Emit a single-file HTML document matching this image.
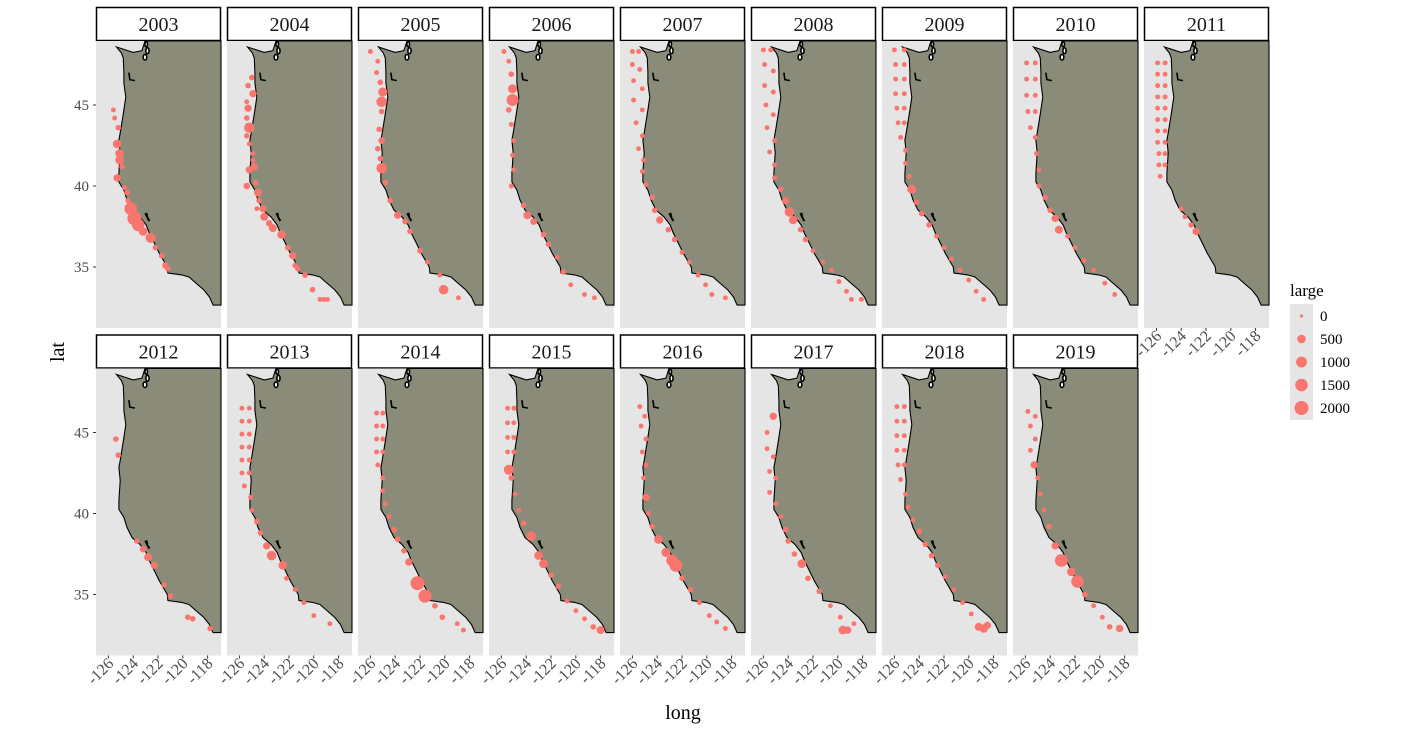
<!DOCTYPE html>
<html><head><meta charset="utf-8">
<style>
html,body{margin:0;padding:0;background:#fff;}
svg{display:block;font-family:"Liberation Serif",serif;}
</style></head>
<body>
<svg id="chart" width="1410" height="731" viewBox="0 0 1410 731" xmlns="http://www.w3.org/2000/svg"></svg>
<script>
const years=[2003,2004,2005,2006,2007,2008,2009,2010,2011,2012,2013,2014,2015,2016,2017,2018,2019];
const xTicks=[-126,-124,-122,-120,-118];
const yTicks=[45,40,35];
const legendValues=[0,500,1000,1500,2000];
// [lon, lat, large]
const pts2003=[[-125.6,44.7,50],[-125.5,44.2,50],[-125.2,43.6,100],[-125.3,42.6,500],[-125.1,42.0,500],[-125.1,41.6,500],[-124.9,41.2,100],[-125.3,40.5,300],[-124.7,39.9,50],[-124.5,39.6,100],[-124.4,39.1,100],[-124.2,38.6,1500],[-123.9,38.0,2000],[-123.6,37.6,1500],[-123.2,37.2,500],[-122.6,36.8,800],[-122.2,36.2,100],[-121.7,35.7,100],[-121.4,35.1,200],[-121.2,34.9,100]];
const pts2004=[[-125.0,46.7,100],[-125.3,46.2,100],[-124.9,45.7,300],[-125.4,45.2,50],[-125.3,44.8,300],[-125.4,44.2,100],[-125.2,43.6,900],[-125.4,43.1,100],[-125.2,42.6,50],[-124.9,42.0,50],[-124.9,41.6,50],[-124.8,41.2,300],[-125.2,41.0,300],[-124.7,40.2,100],[-125.4,40.0,200],[-124.5,39.6,400],[-124.4,39.1,100],[-124.6,38.6,50],[-124.1,38.6,300],[-124.0,38.1,400],[-123.6,37.7,200],[-123.3,37.4,400],[-122.6,37.0,500],[-122.1,36.2,100],[-121.7,35.7,300],[-121.5,35.1,100],[-121.3,34.9,100],[-120.7,34.5,100],[-120.1,33.6,100],[-119.5,33.0,50],[-119.2,33.0,50],[-118.9,33.0,50]];
const pts2005=[[-126.0,48.3,50],[-125.4,47.7,50],[-125.5,47.0,50],[-125.2,46.4,100],[-125.0,45.8,600],[-125.1,45.2,900],[-125.1,44.6,100],[-125.3,43.5,100],[-125.1,42.8,200],[-125.4,42.3,100],[-125.2,41.7,100],[-125.1,41.1,900],[-124.8,40.2,100],[-124.4,39.1,100],[-123.8,38.2,300],[-123.2,37.8,100],[-122.8,37.2,100],[-122.0,36.0,100],[-121.4,35.3,50],[-120.4,34.5,50],[-120.1,33.6,700],[-118.9,33.1,50]];
const pts2006=[[-125.8,48.3,50],[-125.4,47.7,50],[-125.2,46.9,100],[-125.1,46.0,600],[-125.1,45.3,1300],[-125.4,44.7,100],[-125.2,43.8,50],[-125.0,42.8,50],[-125.1,41.9,50],[-125.0,41.0,50],[-125.2,40.0,50],[-124.2,38.8,100],[-123.9,38.2,400],[-123.4,37.8,200],[-122.6,37.0,100],[-122.2,36.4,100],[-121.5,35.6,50],[-121.0,34.7,100],[-120.4,33.9,50],[-119.3,33.3,50],[-118.5,33.1,50]];
const pts2007=[[-126.0,48.3,50],[-125.5,48.3,50],[-126.0,47.5,50],[-125.4,47.2,50],[-125.9,46.5,50],[-125.2,46.0,50],[-125.9,45.3,50],[-125.2,44.7,50],[-125.7,43.9,50],[-125.2,43.1,50],[-125.5,42.3,50],[-125.1,41.6,50],[-125.2,40.9,50],[-124.9,40.1,50],[-124.4,39.3,100],[-124.2,38.5,100],[-123.8,37.9,300],[-123.1,37.3,100],[-122.6,36.7,100],[-122.0,35.9,50],[-121.4,35.3,50],[-120.7,34.5,50],[-120.1,33.9,50],[-119.6,33.3,50],[-118.5,33.1,50]];
const pts2008=[[-126.0,48.4,50],[-125.4,48.4,50],[-125.9,47.5,50],[-125.2,47.1,50],[-125.9,46.2,50],[-125.2,45.8,50],[-125.8,45.0,50],[-125.2,44.4,50],[-125.7,43.6,50],[-125.1,42.8,50],[-125.5,42.1,50],[-125.1,41.3,50],[-125.1,40.5,50],[-124.6,39.8,100],[-124.2,39.1,300],[-123.9,38.4,700],[-123.6,37.9,500],[-123.0,37.3,100],[-122.6,36.7,100],[-122.0,36.0,50],[-121.2,35.3,50],[-120.5,34.8,50],[-119.9,34.1,50],[-119.3,33.5,50],[-118.9,33.0,50],[-118.1,33.0,50]];
const pts2009=[[-126.0,48.4,50],[-125.2,48.4,50],[-125.9,47.5,50],[-125.2,47.5,50],[-125.9,46.6,50],[-125.2,46.6,50],[-125.9,45.7,50],[-125.2,45.7,50],[-125.8,44.8,50],[-125.2,44.8,50],[-125.7,43.9,50],[-125.2,43.9,50],[-125.5,43.0,50],[-125.1,42.2,50],[-125.1,41.4,50],[-124.8,40.6,50],[-124.6,39.8,600],[-124.2,39.0,100],[-123.8,38.3,100],[-123.2,37.6,100],[-122.6,36.9,50],[-122.0,36.2,50],[-121.4,35.5,50],[-120.7,34.8,50],[-120.0,34.2,50],[-119.4,33.5,50],[-118.8,33.0,50]];
const pts2010=[[-125.9,47.6,50],[-125.2,47.6,50],[-125.9,46.6,50],[-125.2,46.6,50],[-125.9,45.6,50],[-125.2,45.6,50],[-125.8,44.6,50],[-125.2,44.6,50],[-125.6,43.6,50],[-125.2,43.0,50],[-125.1,42.0,50],[-124.9,41.0,50],[-124.9,40.0,50],[-124.4,39.3,100],[-124.0,38.5,100],[-123.6,38.0,300],[-123.3,37.3,400],[-122.6,36.9,50],[-122.0,36.2,50],[-121.3,35.4,50],[-120.5,34.8,50],[-119.6,34.0,50],[-118.8,33.3,50]];
const pts2011=[[-125.9,47.6,50],[-125.3,47.6,50],[-125.9,46.9,50],[-125.3,46.9,50],[-125.9,46.2,50],[-125.3,46.2,50],[-125.9,45.5,50],[-125.3,45.5,50],[-125.9,44.8,50],[-125.3,44.8,50],[-125.9,44.1,50],[-125.3,44.1,50],[-125.9,43.4,50],[-125.3,43.4,50],[-125.9,42.7,50],[-125.3,42.7,50],[-125.8,42.0,50],[-125.3,42.0,50],[-125.8,41.3,50],[-125.3,41.3,50],[-125.7,40.6,50],[-124.0,38.6,50],[-123.7,38.1,50],[-123.2,37.6,100],[-122.8,37.2,300]];
const pts2012=[[-125.4,44.6,100],[-125.2,43.6,100],[-123.7,38.3,100],[-123.2,37.8,200],[-122.8,37.3,400],[-122.3,36.8,300],[-121.5,35.6,100],[-121.0,34.9,100],[-119.6,33.6,100],[-119.2,33.5,100],[-117.8,32.9,100]];
const pts2013=[[-125.8,46.5,50],[-125.2,46.5,50],[-125.8,45.7,50],[-125.2,45.7,50],[-125.8,44.9,50],[-125.2,44.9,50],[-125.8,44.1,50],[-125.2,44.1,50],[-125.8,43.3,50],[-125.2,43.3,50],[-125.8,42.5,50],[-125.2,42.5,50],[-125.6,41.7,50],[-125.1,41.0,50],[-125.0,40.2,50],[-124.6,39.5,100],[-124.3,38.8,100],[-123.8,38.0,300],[-123.4,37.4,700],[-122.5,36.8,500],[-122.2,36.0,50],[-121.5,35.3,50],[-120.8,34.5,50],[-120.0,33.7,50],[-118.7,33.2,50]];
const pts2014=[[-125.5,46.2,50],[-125.0,46.2,50],[-125.5,45.4,50],[-125.0,45.4,50],[-125.5,44.6,50],[-125.0,44.6,50],[-125.5,43.8,50],[-125.0,43.8,50],[-125.4,43.0,50],[-125.0,42.2,50],[-125.0,41.4,50],[-124.8,40.6,50],[-124.5,39.8,50],[-124.1,39.0,100],[-123.8,38.4,100],[-123.3,37.7,100],[-122.9,37.0,300],[-122.2,35.7,2000],[-121.6,34.9,1700],[-120.8,34.3,100],[-120.2,33.6,100],[-119.0,33.2,50],[-118.5,32.8,50]];
const pts2015=[[-125.5,46.5,50],[-125.0,46.5,50],[-125.5,45.6,50],[-125.0,45.6,50],[-125.5,44.7,50],[-125.0,44.7,50],[-125.5,43.8,50],[-125.0,43.8,50],[-125.4,42.7,800],[-125.2,42.2,100],[-124.9,41.2,50],[-124.6,40.2,50],[-124.2,39.4,100],[-123.6,38.6,700],[-123.0,37.4,500],[-122.6,36.9,600],[-122.0,36.2,100],[-121.4,35.5,100],[-120.7,34.6,50],[-120.0,34.0,50],[-119.3,33.5,50],[-118.6,33.0,100],[-118.0,32.8,400]];
const pts2016=[[-125.4,46.6,50],[-125.0,46.0,50],[-125.3,45.4,50],[-124.9,44.6,50],[-125.2,43.8,50],[-124.9,43.0,50],[-125.1,42.2,50],[-124.9,41.0,300],[-124.7,40.0,50],[-124.4,39.2,100],[-123.9,38.4,500],[-123.3,37.6,600],[-122.8,37.1,1200],[-122.5,36.8,1600],[-122.0,36.0,100],[-121.3,35.3,100],[-120.6,34.5,50],[-119.8,33.7,50],[-119.2,33.3,50],[-118.5,32.9,50]];
const pts2017=[[-125.2,46.0,300],[-125.7,45.0,50],[-125.7,44.0,50],[-125.2,43.5,50],[-125.5,42.6,50],[-125.0,42.2,50],[-125.5,41.3,50],[-125.0,40.6,50],[-124.6,39.8,50],[-124.2,39.0,100],[-124.0,38.3,100],[-123.5,37.5,100],[-122.9,36.9,500],[-122.4,36.0,100],[-121.5,35.2,100],[-120.6,34.3,50],[-119.8,33.6,50],[-119.6,32.8,500],[-119.2,32.8,300],[-118.7,33.2,50]];
const pts2018=[[-125.8,46.6,50],[-125.2,46.6,50],[-125.8,45.7,50],[-125.2,45.7,50],[-125.8,44.8,50],[-125.2,44.8,50],[-125.8,43.9,50],[-125.2,43.9,50],[-125.7,43.0,50],[-125.2,43.0,50],[-125.5,42.1,50],[-125.1,41.2,50],[-124.9,40.4,50],[-124.5,39.6,50],[-124.0,38.9,100],[-123.5,38.1,100],[-123.0,37.4,100],[-122.5,36.8,100],[-121.9,36.1,50],[-121.2,35.3,50],[-120.5,34.5,50],[-119.8,33.8,50],[-119.2,33.0,400],[-118.8,32.9,500],[-118.5,33.1,300]];
const pts2019=[[-125.8,46.3,50],[-125.2,46.0,50],[-125.6,45.4,50],[-125.2,44.6,50],[-125.6,43.9,50],[-125.3,43.0,300],[-125.0,42.2,50],[-124.8,41.2,50],[-124.5,40.2,50],[-124.1,39.2,100],[-123.6,38.0,300],[-123.1,37.1,1600],[-122.3,36.4,500],[-121.8,35.8,1500],[-121.2,35.0,100],[-120.5,34.3,50],[-119.8,33.6,50],[-119.2,33.0,100],[-118.4,32.9,300]];
const pointsByYear={2003:pts2003,2004:pts2004,2005:pts2005,2006:pts2006,2007:pts2007,2008:pts2008,2009:pts2009,2010:pts2010,2011:pts2011,2012:pts2012,2013:pts2013,2014:pts2014,2015:pts2015,2016:pts2016,2017:pts2017,2018:pts2018,2019:pts2019};
// coastline (lon, lat)
const coastLon=[-123.05,-123.3,-124.0,-125.35,-124.95,-124.8,-124.75,-124.75,-124.6,-124.75,-125.05,-125.15,-125.05,-125.15,-125.15,-124.75,-124.5,-124.1,-123.45,-122.95,-122.7,-122.3,-121.9,-121.25,-121.2,-120.1,-119.5,-118.95,-118.3,-117.85,-117.56,-116.9,-116.9];
const coastLat=[48.95,48.35,48.25,48.58,48.21,47.9,46.98,46.36,45.49,44.69,43.27,42.84,42.04,40.80,40.25,39.75,39.14,38.52,38.09,37.59,37.10,36.48,35.86,35.00,34.63,34.51,34.38,34.01,33.58,33.15,32.65,32.65,48.95];

const NS='http://www.w3.org/2000/svg';
const svg=document.getElementById('chart');
function mk(tag,attrs,parent){const e=document.createElementNS(NS,tag);for(const k in attrs)e.setAttribute(k,attrs[k]);(parent||svg).appendChild(e);return e;}
const PW=125,PH=287,STEP=131,X0=96,Y0=41,ROWOFF=327.5;
const lonMin=-127;
function sx(lon,left){return left+(lon-lonMin)*12.4;}
function sy(lat,top){return top+64+(45-lat)*16.2;}
function rad(v){return 1.6+5.4*Math.sqrt(Math.max(v,0)/2000);}

years.forEach((yr,i)=>{
  const row=i<9?0:1, col=i<9?i:i-9;
  const left=X0+col*STEP, top=Y0+row*ROWOFF;
  const g=mk('g',{});
  
  
  const strip=mk('rect',{x:left+0.5,y:top-33.5,width:PW-1,height:33,fill:'#fff',stroke:'#000','stroke-width':1.5},g);
  
  
  const st=mk('text',{x:left+PW/2,y:top-10,'text-anchor':'middle','font-size':20,fill:'#1a1a1a'},g);
  st.textContent=yr;
  
  
  const bg=mk('rect',{x:left,y:top,width:PW,height:PH,fill:'#e5e5e5'},g);
  
  
  let d='';
  coastLon.forEach((lo,k)=>{d+=(k?'L':'M')+Math.min(sx(lo,left),left+PW).toFixed(1)+','+Math.max(sy(coastLat[k],top),top).toFixed(1);});
  const land=mk('path',{d:d+'Z',fill:'#8b8b7a',stroke:'#000','stroke-width':1.1},g);
  
  
  const ps=mk('g',{stroke:'#000','stroke-width':1.6,fill:'#fff'},g);
  
  
  mk('ellipse',{cx:sx(-122.95,left),cy:sy(48.75,top),rx:1.3,ry:2.5},ps);
  mk('ellipse',{cx:sx(-122.85,left),cy:sy(48.35,top),rx:1.6,ry:3},ps);
  mk('ellipse',{cx:sx(-123.05,left),cy:sy(47.95,top),rx:1.8,ry:2.8},ps);
  mk('path',{d:'M'+sx(-124.35,left)+','+sy(47.0,top)+' l1,7 l5,1',fill:'none',stroke:'#000','stroke-width':1.6},g);
  mk('path',{d:'M'+sx(-123.1,left)+','+sy(38.3,top)+' l3,-1 l1,5 l2,3 l-2,1 Z',fill:'#000'},g);
  pointsByYear[yr].forEach(p=>{
    const c=mk('circle',{cx:sx(p[0],left).toFixed(1),cy:sy(p[1],top).toFixed(1),r:rad(p[2]).toFixed(2),fill:'#f8766d'},g);
    
    
  });
  if(row===1||yr===2011){
    xTicks.forEach(t=>{
      const tx=sx(t,left);
      mk('line',{x1:tx,x2:tx,y1:top+PH,y2:top+PH+3,stroke:'#333','stroke-width':1},g);
      const lb=mk('text',{x:0,y:0,'text-anchor':'end','font-size':16,fill:'#4d4d4d',transform:'translate('+(tx+6)+','+(top+PH+9)+') rotate(-45)'},g);
      lb.textContent=t;
      
      
    });
  }
  if(col===0){
    yTicks.forEach(t=>{
      const ty=sy(t,top);
      mk('line',{x1:left-3,x2:left,y1:ty,y2:ty,stroke:'#333','stroke-width':1},g);
      const lb=mk('text',{x:left-7,y:ty+5,'text-anchor':'end','font-size':15,fill:'#4d4d4d'},g);
      lb.textContent=t;
      
      
    });
  }
});
const xt=mk('text',{x:683,y:719,'text-anchor':'middle','font-size':20,fill:'#000'});
xt.textContent='long';


const yt=mk('text',{x:0,y:0,'text-anchor':'middle','font-size':20,fill:'#000',transform:'translate(64,352) rotate(-90)'});
yt.textContent='lat';


const lg=mk('g',{});


const lt=mk('text',{x:1290,y:296,'font-size':17,fill:'#000'},lg);
lt.textContent='large';


mk('rect',{x:1290,y:304,width:23,height:116,fill:'#e5e5e5'},lg);
legendValues.forEach((v,k)=>{
  const cy=316+k*23;
  const c=mk('circle',{cx:1301.5,cy:cy,r:rad(v).toFixed(2),fill:'#f8766d'},lg);
  
  
  const t=mk('text',{x:1320,y:cy+5,'font-size':15,fill:'#000'},lg);
  t.textContent=v;
  
  
});
</script>
</body></html>
